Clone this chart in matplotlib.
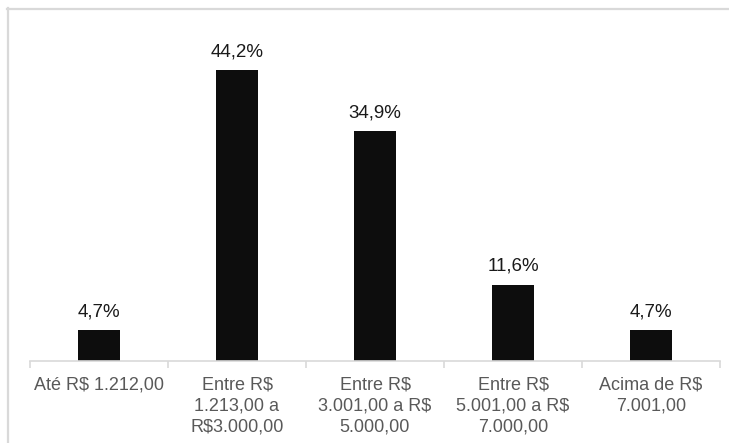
import matplotlib
matplotlib.use("Agg")
import matplotlib.pyplot as plt
from matplotlib.lines import Line2D

plt.rcParams["font.family"] = ["Liberation Sans", "DejaVu Sans"]

categories = ["Até R$ 1.212,00",
              "Entre R$\n1.213,00 a\nR$3.000,00",
              "Entre R$\n3.001,00 a R$\n5.000,00",
              "Entre R$\n5.001,00 a R$\n7.000,00",
              "Acima de R$\n7.001,00"]
values = [4.7, 44.2, 34.9, 11.6, 4.7]
labels = ["4,7%", "44,2%", "34,9%", "11,6%", "4,7%"]

W, H = 729, 443
fig = plt.figure(figsize=(W / 100, H / 100), dpi=100)
ax = fig.add_axes([30 / W, 82 / H, 690 / W, 329 / H])

x = range(len(values))
bars = ax.bar(x, values, width=0.30, color="#0d0d0d")
for b, lab in zip(bars, labels):
    ax.annotate(lab, (b.get_x() + b.get_width() / 2, b.get_height()),
                xytext=(0, 7), textcoords="offset points",
                ha="center", va="bottom", fontsize=13.5, color="#1a1a1a")

ax.set_xlim(-0.5, len(values) - 0.5)
ax.set_ylim(0, 50)
ax.set_xticks(list(x))
ax.set_xticklabels(categories, fontsize=13, color="#595959", linespacing=1.3)
ax.tick_params(axis="x", length=0, pad=11)
ax.set_xticks([i - 0.5 for i in range(len(values) + 1)], minor=True)
ax.tick_params(axis="x", which="minor", length=5, color="#d9d9d9", width=1.2)
ax.set_yticks([])
for side in ("top", "right", "left"):
    ax.spines[side].set_visible(False)
ax.spines["bottom"].set_color("#d9d9d9")
ax.spines["bottom"].set_linewidth(1.2)

# light frame on top and left edges
fig.add_artist(Line2D([7 / W, 1], [1 - 8.5 / H, 1 - 8.5 / H],
                      transform=fig.transFigure, color="#d9d9d9", lw=1.6))
fig.add_artist(Line2D([7.5 / W, 7.5 / W], [0, 1 - 8 / H],
                      transform=fig.transFigure, color="#d9d9d9", lw=1.6))

fig.savefig("out.png", dpi=100)
